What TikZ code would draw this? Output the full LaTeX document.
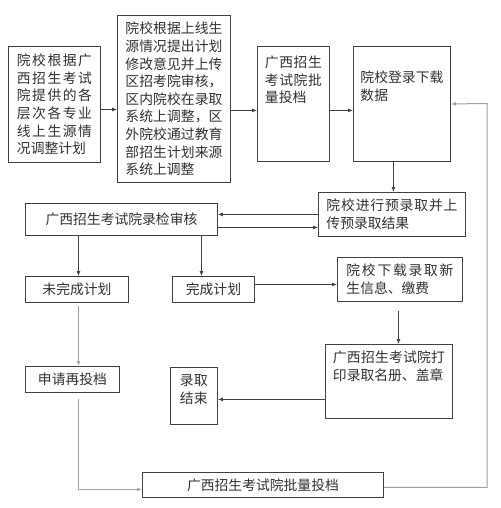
\documentclass[tikz,border=0pt]{standalone}
\usepackage{fontspec}
\newfontfamily\cjk{Noto Sans CJK SC}
\XeTeXlinebreaklocale "zh"
\XeTeXlinebreakskip=0pt plus 2pt
\usetikzlibrary{arrows.meta}
\definecolor{edge}{HTML}{404040}
\definecolor{soft}{HTML}{A0A0A0}
\definecolor{ink}{HTML}{303030}
\begin{document}
\begin{tikzpicture}[x=1pt, y=-1pt, >={Latex[length=5pt,width=4pt]},
    box/.style={draw=edge, line width=0.9pt, anchor=north west, inner ysep=0pt,
        text=ink, font=\cjk\fontsize{13.8}{17.6}\selectfont},
    wire/.style={draw=edge, line width=0.8pt},
    softwire/.style={draw=soft, line width=1pt}]
    \useasboundingbox (0,0) rectangle (500,508);

    % Nodes
    \node at (8,46) (plan) [box, inner xsep=8.5pt, minimum width=92pt, minimum height=116pt,
        text width=75pt, align=justify] {院校根据广西招生考试院提供的各层次各专业线上生源情况调整计划};
    \node at (117,15) (revise) [box, inner xsep=8pt, minimum width=113pt, minimum height=167pt,
        text width=97pt, align=justify] {院校根据上线生源情况提出计划修改意见并上传区招考院审核，区内院校在录取系统上调整，区外院校通过教育部招生计划来源系统上调整};
    \node at (257,46) (batch) [box, inner xsep=7.5pt, text width=57pt, align=justify,
        text height=21pt, text depth=94pt] {广西招生考试院批量投档};
    \node at (353,46) (download) [box, inner xsep=7pt, text width=83pt, align=justify,
        text height=36pt, text depth=79pt] {院校登录下载数据};
    \node at (318,192) (preadmit) [box, inner xsep=8pt, minimum height=44pt,
        text width=131pt, align=justify] {院校进行预录取并上传预录取结果};
    \node at (25,203) (review) [box, minimum width=192pt, minimum height=32pt] {广西招生考试院录检审核};
    \node at (25,276) (unfinished) [box, minimum width=103pt, minimum height=26pt] {未完成计划};
    \node at (172,276) (finished) [box, minimum width=82pt, minimum height=26pt] {完成计划};
    \node at (337,257) (fetch) [box, inner xsep=9pt, minimum height=44pt,
        text width=107pt, align=justify] {院校下载录取新生信息、缴费};
    \node at (325,344) (roster) [box, inner xsep=7.5pt, text width=112pt, align=justify,
        text height=18pt, text depth=56pt] {广西招生考试院打印录取名册、盖章};
    \node at (170,367) (done) [box, inner xsep=9.5pt, text width=28pt, align=justify,
        text height=18pt, text depth=39pt] {录取结束};
    \node at (25,366) (reapply) [box, minimum width=94pt, minimum height=26pt] {申请再投档};
    \node at (142,472) (rebatch) [box, minimum width=241pt, minimum height=25pt] {广西招生考试院批量投档};
    \coordinate (loop) at (487,103.5);

    % Arrows
    \draw[wire, ->] ([yshift=-5pt]plan.east) -- ([yshift=-5pt]plan.east -| revise.west);
    \draw[wire, ->] ([yshift=-11.5pt]revise.east) -- ([yshift=-11.5pt]revise.east -| batch.west);
    \draw[wire, ->] ([yshift=-6.5pt]batch.east) -- ([yshift=-6.5pt]batch.east -| download.west);
    \draw[wire, ->] ([xshift=1.5pt]preadmit.north |- download.south) -- ([xshift=1.5pt]preadmit.north);
    \draw[wire, ->] (preadmit.west) -- (preadmit.west -| review.east);
    \draw[wire, ->] ([yshift=-8pt]review.east) -- ([yshift=-8pt]review.east -| preadmit.west);
    \draw[wire, ->] ([xshift=1.5pt]unfinished.north |- review.south) -- ([xshift=1.5pt]unfinished.north);
    \draw[wire, ->] ([xshift=-12pt]finished.north |- review.south) -- ([xshift=-12pt]finished.north);
    \draw[wire, ->] ([yshift=5pt]finished.east) -- ([yshift=5pt]finished.east -| fetch.west);
    \draw[wire, ->] ([xshift=-1.5pt,yshift=-9pt]fetch.south) -- ([xshift=-1.5pt]fetch.south |- roster.north);
    \draw[wire, ->] ([yshift=-3.5pt]done.east -| roster.west) -- ([yshift=-3.5pt]done.east);
    \draw[softwire, ->] ([xshift=1.5pt,yshift=-3pt]unfinished.south) -- ([xshift=1.5pt]unfinished.south |- reapply.north);
    \draw[softwire, ->] ([xshift=1.5pt,yshift=-6pt]reapply.south -| unfinished.south) |- ([yshift=-4.5pt]rebatch.west);
    \draw[softwire, ->] ([yshift=-2.5pt]rebatch.east) -| (loop) -- (download.east);
\end{tikzpicture}
\end{document}
